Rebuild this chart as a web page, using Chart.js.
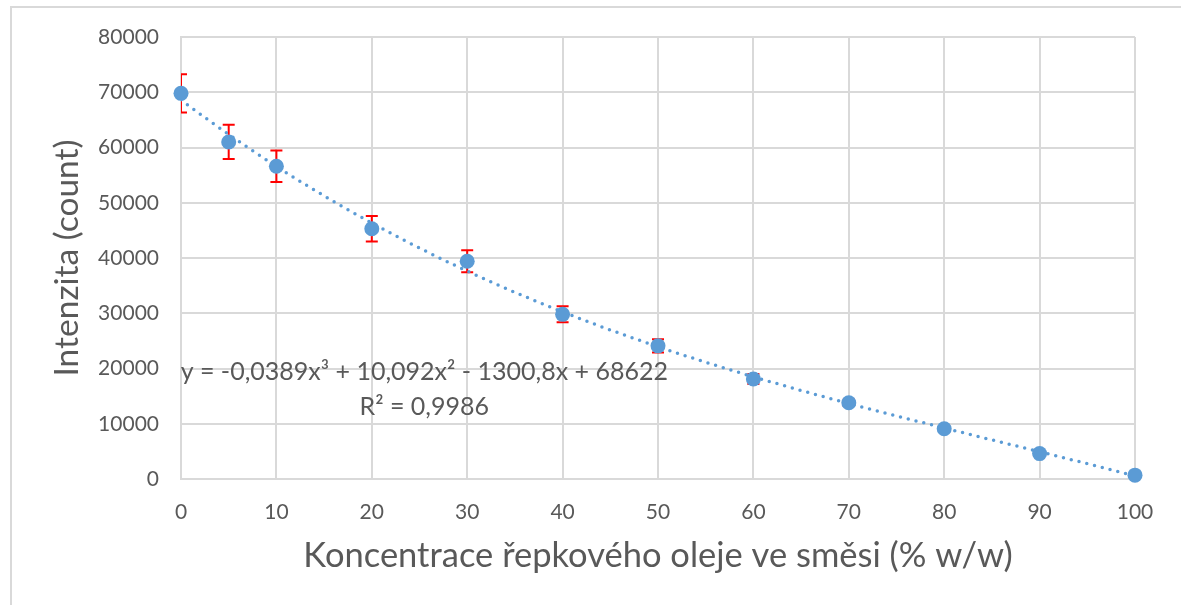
<!DOCTYPE html>
<html>
<head>
<meta charset="utf-8">
<script src="https://cdn.jsdelivr.net/npm/chart.js@4.4.1/dist/chart.umd.min.js"></script>
<style>
  html, body { margin: 0; padding: 0; background: #ffffff; }
  #wrap { position: relative; width: 1181px; height: 605px; overflow: hidden; }
  #frame { position: absolute; left: 10px; top: 6px; width: 1300px; height: 700px;
           border-left: 2px solid #d9d9d9; border-top: 2px solid #d9d9d9; box-sizing: border-box; }
  #c { position: absolute; left: 0; top: 0; }
</style>
</head>
<body>
<div id="wrap">
  <div id="frame"></div>
  <canvas id="c" width="1181" height="605"></canvas>
</div>
<script>
// Concentration of rapeseed oil in the blend (% w/w)
const concentration = [0, 5, 10, 20, 30, 40, 50, 60, 70, 80, 90, 100];
// Mean intensity (count)
const intensity = [69800, 61000, 56600, 45300, 39400, 29800, 24100, 18100, 13800, 9100, 4600, 700];
// Standard deviation of the intensity
const deviation = [3450, 3100, 2850, 2300, 2000, 1450, 1200, 900, 600, 500, 400, 200];
// Cubic trendline coefficients (constant term first), as given in the equation label
const trendCoefficients = [68622, -1300.8, 10.092, -0.0389];
const equationText = 'y = -0,0389x³ + 10,092x² - 1300,8x + 68622';
const r2Text = 'R² = 0,9986';
const xTicks = [0, 10, 20, 30, 40, 50, 60, 70, 80, 90, 100];
const yTicks = [0, 10000, 20000, 30000, 40000, 50000, 60000, 70000, 80000];

const FONT = 'Lato, "Open Sans", sans-serif';
const TEXT = '#595959';
const GRID = '#d9d9d9';
const BLUE = '#5b9bd5';

const measured = concentration.map((x, i) => ({ x: x, y: intensity[i] }));
const trend = [];
for (let x = 0; x <= 100; x += 1) {
  trend.push({ x: x, y: trendCoefficients.reduce((s, c, k) => s + c * Math.pow(x, k), 0) });
}

// Red vertical error bars with caps, clipped to the plot area
const errorBars = {
  id: 'errorBars',
  beforeDatasetsDraw(chart) {
    const { ctx, chartArea, scales } = chart;
    ctx.save();
    ctx.beginPath();
    ctx.rect(chartArea.left, chartArea.top, chartArea.right - chartArea.left, chartArea.bottom - chartArea.top);
    ctx.clip();
    ctx.strokeStyle = '#ff0000';
    ctx.lineWidth = 2;
    concentration.forEach((x, i) => {
      const px = scales.x.getPixelForValue(x);
      const top = scales.y.getPixelForValue(intensity[i] + deviation[i]);
      const bot = scales.y.getPixelForValue(intensity[i] - deviation[i]);
      ctx.beginPath();
      ctx.moveTo(px, top); ctx.lineTo(px, bot);
      ctx.moveTo(px - 6, top); ctx.lineTo(px + 6, top);
      ctx.moveTo(px - 6, bot); ctx.lineTo(px + 6, bot);
      ctx.stroke();
    });
    ctx.restore();
  }
};

// Trendline equation and coefficient of determination
const equationLabel = {
  id: 'equationLabel',
  afterDatasetsDraw(chart) {
    const { ctx, scales } = chart;
    const cx = scales.x.getPixelForValue(25.5);
    ctx.save();
    ctx.fillStyle = TEXT;
    ctx.font = '25px ' + FONT;
    ctx.textAlign = 'center';
    ctx.textBaseline = 'middle';
    ctx.fillText(equationText, cx, scales.y.getPixelForValue(19300));
    ctx.fillText(r2Text, cx, scales.y.getPixelForValue(13100));
    ctx.restore();
  }
};

new Chart(document.getElementById('c'), {
  type: 'scatter',
  data: {
    datasets: [
      {
        label: 'Trend',
        data: trend,
        showLine: true,
        pointRadius: 0,
        borderColor: BLUE,
        borderWidth: 3.5,
        borderDash: [0, 8],
        borderCapStyle: 'round',
        tension: 0,
        order: 2
      },
      {
        label: 'Intenzita',
        data: measured,
        pointRadius: 7.5,
        pointHoverRadius: 7.5,
        backgroundColor: BLUE,
        borderColor: BLUE,
        borderWidth: 0,
        clip: false,
        order: 1
      }
    ]
  },
  options: {
    responsive: false,
    animation: false,
    events: [],
    layout: { padding: { left: 12, top: 37, right: 46, bottom: 0 } },
    plugins: { legend: { display: false }, tooltip: { enabled: false } },
    scales: {
      x: {
        type: 'linear',
        min: 0, max: 100,
        afterBuildTicks(scale) { scale.ticks = xTicks.map(v => ({ value: v })); },
        afterFit(scale) { scale.height = 126; },
        ticks: { color: TEXT, font: { family: FONT, size: 21 }, padding: 21 },
        grid: { color: GRID, lineWidth: 2, drawTicks: false },
        border: { color: GRID, width: 2 },
        title: {
          display: true,
          text: 'Koncentrace řepkového oleje ve směsi (% w/w)',
          color: TEXT,
          font: { family: FONT, size: 34.5 },
          padding: { top: 0, bottom: 28 }
        }
      },
      y: {
        type: 'linear',
        min: 0, max: 80000,
        afterBuildTicks(scale) { scale.ticks = yTicks.map(v => ({ value: v })); },
        afterFit(scale) { scale.width = 169; },
        ticks: {
          color: TEXT, font: { family: FONT, size: 21 }, padding: 22,
          callback: (v) => String(v)
        },
        grid: { color: GRID, lineWidth: 2, drawTicks: false },
        border: { color: GRID, width: 2 },
        title: {
          display: true,
          text: 'Intenzita (count)',
          color: TEXT,
          font: { family: FONT, size: 33.5 },
          padding: { top: 35, bottom: 0 }
        }
      }
    }
  },
  plugins: [errorBars, equationLabel]
});
</script>
</body>
</html>
